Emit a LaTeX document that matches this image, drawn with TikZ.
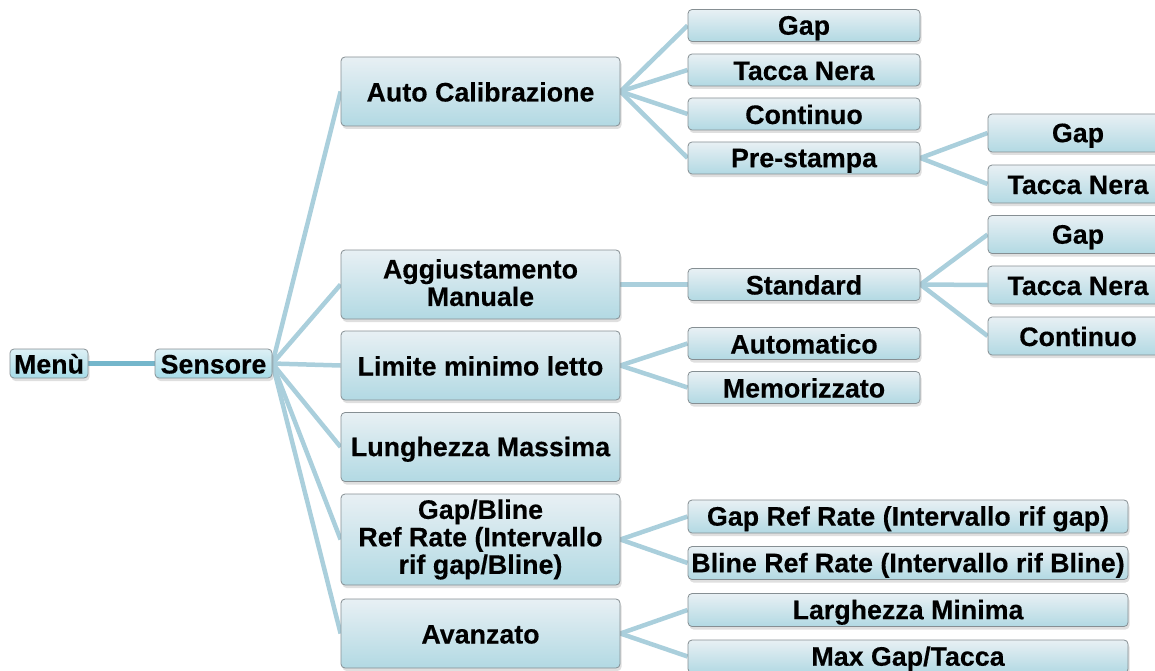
\documentclass[tikz,border=0pt]{standalone}
\usepackage{fontspec}
\setmainfont{Liberation Sans}[BoldFeatures={FakeBold=0.3}]
\usetikzlibrary{shadows}
\pgfdeclarelayer{background}
\pgfsetlayers{background,main}
\definecolor{boxtop}{HTML}{E8F0F4}
\definecolor{boxbot}{HTML}{B2D9E3}
\definecolor{roottop}{HTML}{DDF0F5}
\definecolor{rootbot}{HTML}{A6DCE8}
\definecolor{boxline}{HTML}{868F93}
\definecolor{conn}{HTML}{AACFDC}
\definecolor{rootconn}{HTML}{74B6CB}
\newcommand\boxstrut{\rule[-4pt]{0pt}{28pt}}
\begin{document}
\begin{tikzpicture}[x=1pt,y=-1pt,
  box/.style={draw=boxline, line width=0.8pt, rounded corners=4pt,
    top color=boxtop, bottom color=boxbot, inner sep=0pt, align=center,
    font=\fontsize{26.8}{27.5}\selectfont\bfseries,
    execute at begin node=\boxstrut,
    drop shadow={opacity=0.25, shadow xshift=1.5pt, shadow yshift=-3pt}},
  rootbox/.style={box, top color=roottop, bottom color=rootbot, minimum height=29pt},
  lvtwo/.style={box, minimum width=279pt, minimum height=69pt},
  lvthree/.style={box, minimum width=232pt, minimum height=32pt},
  lvthreew/.style={box, minimum width=440pt, minimum height=33pt},
  lvfour/.style={box, minimum width=180pt, minimum height=38pt},
  link/.style={draw=conn, line width=4.5pt},
  rootlink/.style={draw=rootconn, line width=4.5pt},
]
\useasboundingbox (0,0) rectangle (1155,671);

\node[rootbox, minimum width=78pt] (menu) at (49,363.5) {Menù};
\node[rootbox, minimum width=117pt] (sens) at (213.5,363.5) {Sensore};

\node[lvtwo] (auto) at (480.5,91.5) {Auto Calibrazione};
\node[lvtwo] (aggi) at (480.5,284.5) {Aggiustamento\\Manuale};
\node[lvtwo] (limi) at (480.5,365.5) {Limite minimo letto};
\node[lvtwo] (lung) at (480.5,447) {Lunghezza Massima};
\node[lvtwo, minimum height=91pt] (gapb) at (480.5,539.5) {Gap/Bline\\Ref Rate (Intervallo\\rif gap/Bline)};
\node[lvtwo] (avan) at (480.5,633.5) {Avanzato};

\node[lvthree] (agap) at (804,25.5) {Gap};
\node[lvthree] (atac) at (804,70) {Tacca Nera};
\node[lvthree] (acon) at (804,114) {Continuo};
\node[lvthree] (apre) at (804,158) {Pre-stampa};
\node[lvthree] (stan) at (804,284.5) {Standard};
\node[lvthree] (autm) at (804,343.5) {Automatico};
\node[lvthree] (memo) at (804,387.5) {Memorizzato};
\node[lvthreew] (gref) at (908,516.5) {Gap Ref Rate (Intervallo rif gap)};
\node[lvthreew] (bref) at (908,563) {Bline Ref Rate (Intervallo rif Bline)};
\node[lvthreew] (larg) at (908,610) {Larghezza Minima};
\node[lvthreew] (maxg) at (908,656.5) {Max Gap/Tacca};

\node[lvfour] (pgap) at (1078,133) {Gap};
\node[lvfour] (ptac) at (1078,184) {Tacca Nera};
\node[lvfour] (sgap) at (1078,234.5) {Gap};
\node[lvfour] (stac) at (1078,285) {Tacca Nera};
\node[lvfour] (scon) at (1078,336) {Continuo};

\begin{pgfonlayer}{background}
\draw[rootlink] (menu.east) -- (sens.west);
\foreach \t in {auto,aggi,limi,lung,gapb,avan}
  \draw[link] (sens.east) -- (\t.west);
\foreach \t in {agap,atac,acon,apre}
  \draw[link] (auto.east) -- (\t.west);
\foreach \t in {pgap,ptac}
  \draw[link] (apre.east) -- (\t.west);
\draw[link] (aggi.east) -- (stan.west);
\foreach \t in {sgap,stac,scon}
  \draw[link] (stan.east) -- (\t.west);
\foreach \t in {autm,memo}
  \draw[link] (limi.east) -- (\t.west);
\foreach \t in {gref,bref}
  \draw[link] (gapb.east) -- (\t.west);
\foreach \t in {larg,maxg}
  \draw[link] (avan.east) -- (\t.west);
\end{pgfonlayer}
\end{tikzpicture}
\end{document}
